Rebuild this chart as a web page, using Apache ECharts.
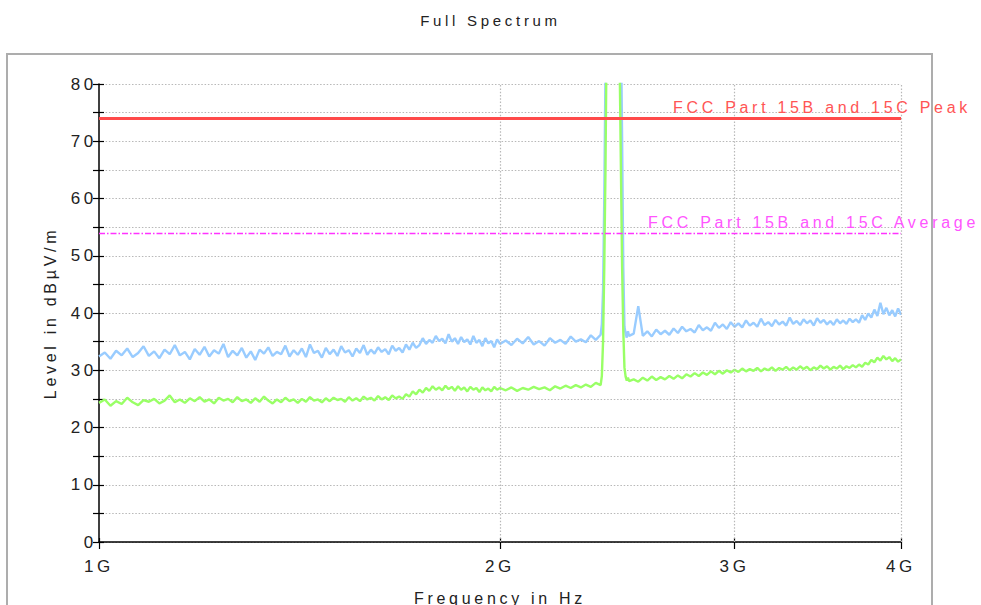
<!DOCTYPE html>
<html><head><meta charset="utf-8">
<script src="https://cdn.jsdelivr.net/npm/echarts@6/dist/echarts.min.js"></script>
<style>
html,body{margin:0;padding:0;background:#fff;}
#chart{width:981px;height:605px;}
#chart text{letter-spacing:3.7px;}
</style></head><body><div id="chart"></div>
<script>
// Sweep frequencies in MHz
const freqMHz = [
1000,1010,1020,1030,1040,1050,1060,1070,1080,1090,
1100,1110,1120,1130,1140,1150,1160,1170,1180,1190,
1200,1210,1220,1230,1240,1250,1260,1270,1280,1290,
1300,1310,1320,1330,1340,1350,1360,1370,1380,1390,
1400,1410,1420,1430,1440,1450,1460,1470,1480,1490,
1500,1510,1520,1530,1540,1550,1560,1570,1580,1590,
1600,1610,1620,1630,1640,1650,1660,1670,1680,1690,
1700,1710,1720,1730,1740,1750,1760,1770,1780,1790,
1800,1810,1820,1830,1840,1850,1860,1870,1880,1890,
1900,1910,1920,1930,1940,1950,1960,1970,1980,1990,
2000,
2020,2040,2060,2080,2100,2120,2140,2160,2180,2200,
2220,2240,2260,2280,2300,2320,2340,2360,2380,
2385,2390,2395,2400,2405,2410,2415,2420,2425,2430,
2435,2440,2445,2450,2455,2460,2465,2470,2475,2480,
2485,2490,2495,2500,
2520,2540,2560,2580,2600,2620,2640,2660,2680,2700,
2720,2740,2760,2780,2800,2820,2840,2860,2880,2900,
2920,2940,2960,2980,3000,3020,3040,3060,3080,3100,
3120,3140,3160,3180,3200,3220,3240,3260,3280,3300,
3320,3340,3360,3380,3400,3420,3440,3460,3480,3500,
3520,3540,3560,3580,3600,3620,3640,3660,3680,3700,
3720,3740,3760,3780,3800,3820,3840,3860,3880,3900,
3920,3940,3960,3980,4000
];
// Peak trace (blue), dBµV/m
const peakTrace = [
32.4,33.1,32.0,33.4,32.6,33.8,32.3,33.0,34.2,32.5,
33.3,32.1,33.6,32.8,34.4,32.6,33.2,31.9,33.7,32.7,
34.1,32.4,33.5,32.9,34.6,32.3,33.4,32.6,33.9,32.2,
33.3,31.8,33.6,32.9,34.0,32.5,33.2,32.8,34.3,32.4,
33.5,32.7,33.8,32.3,34.5,33.0,33.4,32.2,33.9,32.8,
33.6,32.5,34.2,33.1,33.5,32.4,33.8,33.0,34.4,32.7,
33.6,32.9,34.0,33.2,33.7,32.8,34.3,33.4,33.9,33.1,
34.5,33.6,34.8,33.9,34.4,35.6,34.6,35.3,34.8,36.0,
35.1,35.5,34.7,36.3,35.0,35.6,34.6,35.8,34.9,35.4,
34.5,36.0,34.8,35.3,34.2,35.6,34.7,35.1,34.0,35.4,
34.6,
35.2,34.4,35.5,34.7,35.8,34.5,35.1,34.3,35.6,34.8,
35.3,34.6,35.9,35.0,35.4,34.9,36.1,35.3,36.2,
38.0,44.0,60.0,82.0,95.0,98.5,99.2,97.8,99.6,98.4,
99.0,97.6,98.9,99.4,98.1,96.5,90.0,70.0,48.0,37.6,
36.4,35.7,36.8,36.0,
36.4,41.2,36.0,36.8,35.9,37.1,36.3,36.9,36.2,37.3,
36.5,37.6,36.8,37.2,36.6,37.9,37.0,37.5,36.9,38.3,
37.4,38.0,37.2,38.4,37.6,38.2,37.5,38.7,37.8,38.3,
37.6,39.0,37.9,38.4,37.7,38.8,38.0,38.5,37.8,39.2,
38.1,38.6,37.9,38.9,38.2,38.7,37.8,39.1,38.3,38.8,
38.0,38.6,37.9,38.9,38.2,38.7,38.1,39.0,38.4,38.9,
38.3,39.6,38.8,39.9,39.2,40.6,39.5,41.8,39.8,40.9,
39.6,40.5,39.4,40.8,39.7
];
// Average trace (green), dBµV/m
const avgTrace = [
24.3,24.9,23.8,24.6,24.1,25.2,24.4,23.9,24.8,24.5,
25.0,24.2,24.7,25.6,24.4,24.9,24.3,25.1,24.6,25.3,
24.5,24.9,24.2,25.2,24.7,25.0,24.4,25.3,24.6,24.9,
24.3,25.1,24.5,25.4,24.7,24.2,24.9,24.4,25.2,24.6,
24.9,24.3,25.0,24.5,25.3,24.7,24.9,24.4,25.1,24.6,
25.2,24.8,25.0,24.5,25.3,24.7,25.1,24.6,25.4,24.9,
25.2,24.7,25.5,24.9,25.3,24.8,25.6,25.1,25.4,25.0,
25.8,25.4,26.3,25.8,26.6,26.1,26.9,26.4,27.2,26.6,
27.0,26.5,27.3,26.7,27.1,26.4,27.2,26.6,27.0,26.3,
27.1,26.6,26.9,26.2,27.0,26.5,26.8,26.3,27.1,26.6,
26.9,
26.5,27.0,26.4,26.9,26.6,27.1,26.7,27.0,26.5,27.2,
26.8,27.3,26.9,27.4,27.0,27.5,27.1,27.8,27.4,
29.0,35.0,48.0,65.0,90.0,97.0,98.2,97.5,98.8,97.9,
98.4,97.2,98.0,97.4,95.0,82.0,65.0,48.0,37.0,30.5,
28.9,28.2,28.7,28.1,
28.4,28.0,28.7,28.2,28.9,28.3,28.8,28.4,29.0,28.5,
29.1,28.6,29.3,28.9,29.5,29.0,29.6,29.2,29.8,29.3,
29.9,29.4,30.0,29.6,30.1,29.7,30.3,29.8,30.2,29.9,
30.4,29.8,30.3,30.0,30.5,29.9,30.4,30.1,30.6,30.0,
30.5,30.1,30.7,30.2,30.6,30.0,30.5,30.2,30.8,30.3,
30.7,30.1,30.6,30.3,30.8,30.2,30.7,30.4,30.9,30.5,
31.0,30.6,31.3,31.0,31.8,31.4,32.2,31.7,32.5,31.9,
32.3,31.6,32.1,31.5,31.9
];
const xTickValues = [1e9, 2e9, 3e9, 4e9];
const xGridValues = [2e9, 3e9, 4e9];
const peakLimit = 74;
const avgLimit = 54;
const peakLimitLabel = 'FCC Part 15B and 15C Peak';
const avgLimitLabel = 'FCC Part 15B and 15C Average';

const FONT = '"Liberation Sans", Arial, sans-serif';
const gridColor = '#b8b8b8';
const gridDash = [1.5, 1.8];

const chart = echarts.init(document.getElementById('chart'), null, {renderer: 'svg'});
const option = {
  animation: false,
  backgroundColor: '#fff',
  title: {
    text: 'Full Spectrum', left: 'center', top: 8,
    textStyle: {fontFamily: FONT, fontSize: 15, fontWeight: 'normal', color: '#222'}
  },
  grid: {left: 99, right: 80, top: 84, bottom: 63, containLabel: false, outerBoundsMode: 'none'},
  xAxis: [{
    type: 'log', logBase: 10, min: 1e9, max: 4e9,
    name: 'Frequency in Hz', nameLocation: 'middle', nameGap: 48,
    nameTextStyle: {fontFamily: FONT, fontSize: 16, color: '#222'},
    axisLine: {show: true, onZero: false, lineStyle: {color: '#000', width: 1.5}},
    axisTick: {show: true, length: 7, customValues: xTickValues, lineStyle: {color: '#000', width: 1.2}},
    axisLabel: {customValues: xTickValues, formatter: v => Math.round(v / 1e9) + 'G',
      margin: 16, fontFamily: FONT, fontSize: 17, color: '#222'},
    splitLine: {show: false}, minorTick: {show: false}
  }, {
    type: 'log', logBase: 10, min: 1e9, max: 4e9, position: 'bottom',
    axisLine: {show: false},
    axisTick: {show: true, inside: true, length: 4, customValues: xTickValues, lineStyle: {color: '#000', width: 1.2}},
    axisLabel: {show: false}, splitLine: {show: false}
  }],
  yAxis: [{
    type: 'value', min: 0, max: 80, interval: 5,
    name: 'Level in dBµV/m', nameLocation: 'middle', nameGap: 41,
    nameTextStyle: {fontFamily: FONT, fontSize: 16, color: '#222'},
    axisLine: {show: true, lineStyle: {color: '#000', width: 1.5}},
    axisTick: {show: true, length: 6, lineStyle: {color: '#000', width: 1.2}},
    axisLabel: {formatter: v => (v % 10 === 0 ? String(v) : ''), margin: 2,
      fontFamily: FONT, fontSize: 17, color: '#222'},
    splitLine: {show: true, lineStyle: {color: gridColor, type: gridDash, width: 1.2}}
  }, {
    type: 'value', min: 0, max: 80, interval: 5, position: 'left',
    axisLine: {show: false},
    axisTick: {show: true, inside: true, length: 5, lineStyle: {color: '#000', width: 1.2}},
    axisLabel: {show: false}, splitLine: {show: false}
  }],
  graphic: [
    {type: 'rect', z: -10, silent: true, shape: {x: 7, y: 54, width: 925, height: 600},
      style: {fill: 'none', stroke: '#adadad', lineWidth: 2}},
    {type: 'text', z: 10, silent: true, x: 673, y: 107,
      style: {text: peakLimitLabel, fill: '#ff5555', font: '16px ' + FONT, textAlign: 'left', textVerticalAlign: 'middle'}},
    {type: 'text', z: 10, silent: true, x: 648, y: 222,
      style: {text: avgLimitLabel, fill: '#ff55ff', font: '16px ' + FONT, textAlign: 'left', textVerticalAlign: 'middle'}}
  ],
  series: [
    {
      type: 'line', name: 'grid', data: [], z: 1, silent: true,
      markLine: {silent: true, symbol: 'none', label: {show: false}, animation: false,
        lineStyle: {color: gridColor, type: gridDash, width: 1.2},
        data: xGridValues.map(v => ({xAxis: v}))}
    },
    {
      type: 'line', name: 'Peak', z: 3, clip: true, showSymbol: false, symbol: 'none',
      data: freqMHz.map((f, i) => [f * 1e6, peakTrace[i]]),
      lineStyle: {color: '#99ccff', width: 2.4}, itemStyle: {color: '#99ccff'}
    },
    {
      type: 'line', name: 'Average', z: 4, clip: true, showSymbol: false, symbol: 'none',
      data: freqMHz.map((f, i) => [f * 1e6, avgTrace[i]]),
      lineStyle: {color: '#99ff66', width: 2.4}, itemStyle: {color: '#99ff66'}
    },
    {
      type: 'line', name: 'peakLimit', data: [], z: 5, silent: true,
      markLine: {silent: true, symbol: 'none', label: {show: false}, animation: false,
        lineStyle: {color: '#ff4a4a', width: 3, type: 'solid'},
        data: [{yAxis: peakLimit}]}
    },
    {
      type: 'line', name: 'avgLimit', data: [], z: 5, silent: true,
      markLine: {silent: true, symbol: 'none', label: {show: false}, animation: false,
        lineStyle: {color: '#ff33ff', width: 1.4, type: [6, 2, 1.5, 2]},
        data: [{yAxis: avgLimit}]}
    }
  ]
};
chart.setOption(option);
</script>
</body></html>
